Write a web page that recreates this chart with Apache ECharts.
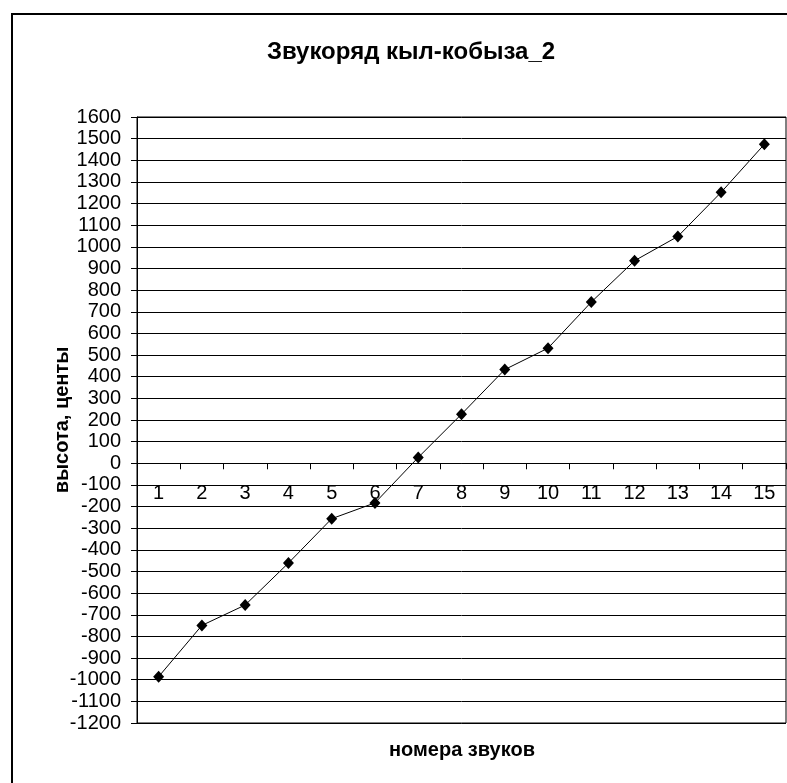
<!DOCTYPE html>
<html>
<head>
<meta charset="utf-8">
<title>Звукоряд кыл-кобыза_2</title>
<script src="https://cdn.jsdelivr.net/npm/echarts@6/dist/echarts.min.js"></script>
<style>
  html, body { margin: 0; padding: 0; background: #fff; }
  #chart { width: 787px; height: 783px; }
</style>
</head>
<body>
<div id="chart"></div>
<script>
// Sound numbers along the scale
const soundNumbers = ['1', '2', '3', '4', '5', '6', '7', '8', '9', '10', '11', '12', '13', '14', '15'];
// Pitch of each sound, in cents
const pitchCents = [-986, -749, -655, -461, -256, -183, 27, 227, 433, 532, 745, 936, 1048, 1252, 1474];

const chartTitle = 'Звукоряд кыл-кобыза_2';
const xAxisTitle = 'номера звуков';
const yAxisTitle = 'высота, центы';

const Y_MIN = -1200;
const Y_MAX = 1600;
const Y_STEP = 100;

const FONT = '"Liberation Sans", Arial, sans-serif';
const WIDTH = 787;
const HEIGHT = 783;
const GRID = { left: 137, top: 117, right: 1, bottom: 60 };

// The category axis crosses the value axis at zero: shift it up from the
// bottom edge of the plot by the height that the negative range takes.
const plotHeight = HEIGHT - GRID.top - GRID.bottom;
const zeroShift = plotHeight * (0 - Y_MIN) / (Y_MAX - Y_MIN);

const chart = echarts.init(document.getElementById('chart'), null, { renderer: 'canvas' });

chart.setOption({
  backgroundColor: '#ffffff',
  animation: false,
  title: {
    text: chartTitle,
    left: 406,
    textAlign: 'center',
    top: 35,
    textStyle: { fontFamily: FONT, fontSize: 24, fontWeight: 'bold', color: '#000' }
  },
  grid: {
    left: GRID.left,
    top: GRID.top,
    right: GRID.right,
    bottom: GRID.bottom,
    show: true,
    borderColor: '#000',
    borderWidth: 1,
    backgroundColor: 'transparent'
  },
  xAxis: {
    type: 'category',
    data: soundNumbers,
    boundaryGap: true,
    offset: -zeroShift,
    axisLine: { onZero: false, lineStyle: { color: '#000', width: 1 } },
    axisTick: { show: true, alignWithLabel: false, length: 6, lineStyle: { color: '#000' } },
    axisLabel: { fontFamily: FONT, fontSize: 20, color: '#000', margin: 20 },
    splitLine: { show: false }
  },
  yAxis: {
    type: 'value',
    min: Y_MIN,
    max: Y_MAX,
    interval: Y_STEP,
    axisLine: { show: true, lineStyle: { color: '#000', width: 1 } },
    axisTick: { show: true, length: 6, lineStyle: { color: '#000' } },
    axisLabel: {
      fontFamily: FONT,
      fontSize: 20,
      color: '#000',
      margin: 16,
      formatter: function (v) { return String(v); }
    },
    splitLine: { show: true, lineStyle: { color: '#000', width: 1 } }
  },
  graphic: [
    {
      type: 'rect',
      shape: { x: 12, y: 14, width: 900, height: 900 },
      style: { fill: 'none', stroke: '#000', lineWidth: 2 },
      silent: true
    },
    {
      type: 'text',
      x: 462,
      y: 750,
      style: {
        text: xAxisTitle,
        fontFamily: FONT,
        fontSize: 20,
        fontWeight: 'bold',
        fill: '#000',
        align: 'center',
        verticalAlign: 'middle'
      },
      silent: true
    },
    {
      type: 'text',
      x: 62,
      y: 420,
      rotation: Math.PI / 2,
      style: {
        text: yAxisTitle,
        fontFamily: FONT,
        fontSize: 20,
        fontWeight: 'bold',
        fill: '#000',
        align: 'center',
        verticalAlign: 'middle'
      },
      silent: true
    }
  ],
  series: [
    {
      type: 'line',
      data: pitchCents,
      symbol: 'diamond',
      symbolSize: [11, 12],
      showAllSymbol: true,
      lineStyle: { color: '#000', width: 1 },
      itemStyle: { color: '#000' },
      z: 3
    }
  ]
});
</script>
</body>
</html>
